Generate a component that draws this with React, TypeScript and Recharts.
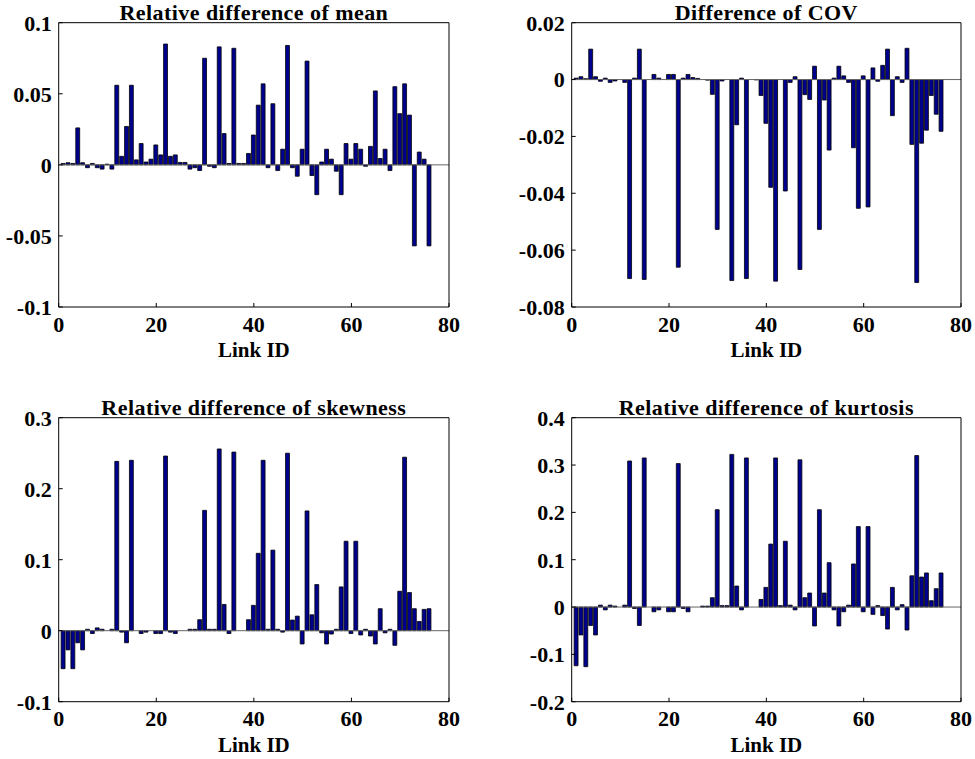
import React from "react";
import { BarChart, Bar, XAxis, YAxis, ReferenceLine } from "recharts";

// link ids of the network (76 links)
const linkIds = [
  1, 2, 3, 4, 5, 6, 7, 8, 9, 10, 11, 12, 13, 14, 15, 16, 17, 18, 19, 20,
  21, 22, 23, 24, 25, 26, 27, 28, 29, 30, 31, 32, 33, 34, 35, 36, 37, 38, 39, 40,
  41, 42, 43, 44, 45, 46, 47, 48, 49, 50, 51, 52, 53, 54, 55, 56, 57, 58, 59, 60,
  61, 62, 63, 64, 65, 66, 67, 68, 69, 70, 71, 72, 73, 74, 75, 76,
];

const meanDiff = [
  0.001, 0.0015, 0.001, 0.026, 0.0015, -0.002, 0.001, -0.002, -0.003, 0.0005,
  -0.003, 0.056, 0.006, 0.027, 0.056, 0.0035, 0.015, 0.002, 0.004, 0.014,
  0.007, 0.085, 0.006, 0.007, 0.0017, 0.0017, -0.003, -0.002, -0.004, 0.075,
  -0.001, -0.002, 0.083, 0.022, 0.001, 0.082, 0.001, 0.001, 0.008, 0.021,
  0.042, 0.057, -0.002, 0.043, -0.004, 0.011, 0.084, -0.002, -0.008, 0.011,
  0.073, -0.0075, -0.021, 0.002, 0.011, 0.004, -0.0045, -0.021, 0.015, 0.004,
  0.015, 0.011, -0.001, 0.013, 0.052, 0.0045, 0.011, -0.004, 0.055, 0.036,
  0.057, 0.035, -0.057, 0.009, 0.004, -0.057,
];

const covDiff = [
  0.0005, 0.001, 0.0003, 0.0107, 0.001, -0.0006, 0.0005, -0.001, -0.0005, 0,
  -0.001, -0.07, 0.0005, 0.0107, -0.0703, 0, 0.0018, 0.0005, 0, 0.0018,
  0.0018, -0.066, 0.0005, 0.0018, 0.0007, 0.0004, 0, -0.0002, -0.0052, -0.0527,
  -0.0005, 0, -0.0707, -0.0159, 0.0005, -0.07, 0, -0.0001, -0.0056, -0.0154,
  -0.0379, -0.0709, 0, -0.0392, -0.001, 0.001, -0.0668, -0.0053, -0.007, 0.0047,
  -0.0527, -0.0072, -0.0248, 0.0005, 0.0047, 0.0013, -0.001, -0.024, -0.0453, 0.0013,
  -0.0448, 0.0041, -0.0006, 0.005, 0.0107, -0.0127, 0.001, -0.001, 0.011, -0.0228,
  -0.0714, -0.0224, -0.0178, -0.0056, -0.0122, -0.0182,
];

const skewDiff = [
  -0.0535, -0.027, -0.0535, -0.017, -0.027, 0.002, -0.004, 0.004, 0.002, 0,
  0.002, 0.2385, -0.002, -0.017, 0.24, 0, -0.004, -0.002, 0, -0.004,
  -0.004, 0.246, -0.002, -0.004, 0, 0, 0.002, 0.002, 0.0155, 0.1695,
  0.002, 0.002, 0.256, 0.037, -0.004, 0.2516, 0, 0, 0.0155, 0.0357,
  0.109, 0.24, 0.002, 0.1135, 0.002, -0.002, 0.25, 0.015, 0.0205, -0.0187,
  0.1687, 0.0224, 0.065, -0.003, -0.0187, -0.0047, 0.002, 0.0617, 0.126, -0.004,
  0.126, -0.006, 0.002, -0.0075, -0.0187, 0.031, -0.003, 0.002, -0.0206, 0.0556,
  0.2444, 0.0537, 0.031, 0.013, 0.03, 0.031,
];

const kurtDiff = [
  -0.124, -0.059, -0.126, -0.039, -0.059, 0.004, -0.006, 0.004, 0.002, 0,
  0.004, 0.3085, -0.003, -0.039, 0.315, 0, -0.01, -0.006, 0, -0.01,
  -0.01, 0.303, -0.003, -0.01, 0, 0, 0.002, 0.002, 0.0197, 0.2056,
  0.003, 0.003, 0.3225, 0.0444, -0.006, 0.315, 0, 0, 0.016, 0.0415,
  0.133, 0.315, 0.003, 0.139, 0.004, -0.006, 0.311, 0.0197, 0.0296, -0.04,
  0.2056, 0.0296, 0.0937, -0.006, -0.04, -0.01, 0.004, 0.091, 0.17, -0.01,
  0.17, -0.0155, 0.003, -0.018, -0.0465, 0.0415, -0.006, 0.005, -0.0486, 0.066,
  0.32, 0.0634, 0.072, 0.0134, 0.0387, 0.072,
];

const xTicks = [0, 20, 40, 60, 80];
const meanTicks = [-0.1, -0.05, 0, 0.05, 0.1];
const covTicks = [-0.08, -0.06, -0.04, -0.02, 0, 0.02];
const skewTicks = [-0.1, 0, 0.1, 0.2, 0.3];
const kurtTicks = [-0.2, -0.1, 0, 0.1, 0.2, 0.3, 0.4];

const FONT = '"Liberation Serif", "Times New Roman", Times, serif';
const tickStyle = { fontFamily: FONT, fontSize: 22, fontWeight: "bold", fill: "#000" };

// plot-area edges, in page pixels
const colL = [58.7, 571.7];
const colR = [449, 961];
const rowT = [22.7, 417.7];
const rowB = [307, 701.7];
const colX = [0, 487];
const colW = [487, 488];
const rowY = [0, 380];
const rowH = [380, 379];

interface PanelProps {
  values: number[];
  title: string;
  yTicks: number[];
  col: number;
  row: number;
}

const Panel: React.FC<PanelProps> = ({ values, yTicks, col, row }) => {
  const data = linkIds.map((link, i) => ({ link, v: values[i] }));
  // every axis is 1px thick, so take it off the margins
  const margin = {
    left: colL[col] - colX[col] - 1,
    right: colX[col] + colW[col] - colR[col] - 1,
    top: rowT[row] - rowY[row] - 1,
    bottom: rowY[row] + rowH[row] - rowB[row] - 1,
  };
  const yDomain = [yTicks[0], yTicks[yTicks.length - 1]];
  return (
    <div style={{ position: "absolute", left: colX[col], top: rowY[row] }}>
      <BarChart width={colW[col]} height={rowH[row]} data={data} margin={margin}>
        <XAxis
          dataKey="link"
          type="number"
          domain={[0, 80]}
          ticks={xTicks}
          height={1}
          tick={tickStyle}
          tickSize={-4}
          tickMargin={13}
          axisLine={{ stroke: "#000" }}
          tickLine={{ stroke: "#000" }}
          interval={0}
        />
        <XAxis
          xAxisId="top"
          orientation="top"
          type="number"
          domain={[0, 80]}
          ticks={xTicks}
          height={1}
          tick={false}
          tickSize={-4}
          axisLine={{ stroke: "#000" }}
          tickLine={{ stroke: "#000" }}
        />
        <YAxis
          type="number"
          domain={yDomain}
          ticks={yTicks}
          width={1}
          tick={tickStyle}
          tickSize={-4}
          tickMargin={11}
          axisLine={{ stroke: "#000" }}
          tickLine={{ stroke: "#000" }}
          interval={0}
        />
        <YAxis
          yAxisId="right"
          orientation="right"
          type="number"
          domain={yDomain}
          ticks={yTicks}
          width={1}
          tick={false}
          tickSize={-4}
          axisLine={{ stroke: "#000" }}
          tickLine={{ stroke: "#000" }}
        />
        <Bar
          dataKey="v"
          fill="#00008F"
          stroke="#000"
          strokeWidth={0.8}
          barSize={3.9}
          isAnimationActive={false}
        />
        <ReferenceLine y={0} stroke="#666" strokeWidth={1} />
      </BarChart>
    </div>
  );
};

const panels = [
  { title: "Relative difference of mean", values: meanDiff, yTicks: meanTicks, col: 0, row: 0 },
  { title: "Difference of COV", values: covDiff, yTicks: covTicks, col: 1, row: 0 },
  { title: "Relative difference of skewness", values: skewDiff, yTicks: skewTicks, col: 0, row: 1 },
  { title: "Relative difference of kurtosis", values: kurtDiff, yTicks: kurtTicks, col: 1, row: 1 },
];

export default function App() {
  return (
    <div style={{ position: "absolute", left: 0, top: 0, width: 975, height: 759, background: "#fff" }}>
      {panels.map((p) => (
        <Panel key={p.title} {...p} />
      ))}
      <svg width={975} height={759} style={{ position: "absolute", left: 0, top: 0, pointerEvents: "none" }}>
        {panels.map((p) => {
          const cx = (colL[p.col] + colR[p.col]) / 2;
          return (
            <g key={p.title} style={{ fontFamily: FONT, fontSize: 22, fontWeight: "bold" }}>
              <text x={cx} y={rowT[p.row] - 3} textAnchor="middle" letterSpacing={0.45}>
                {p.title}
              </text>
              <text x={cx} y={rowB[p.row] + 50} textAnchor="middle" fontSize={21}>
                Link ID
              </text>
            </g>
          );
        })}
      </svg>
    </div>
  );
}
